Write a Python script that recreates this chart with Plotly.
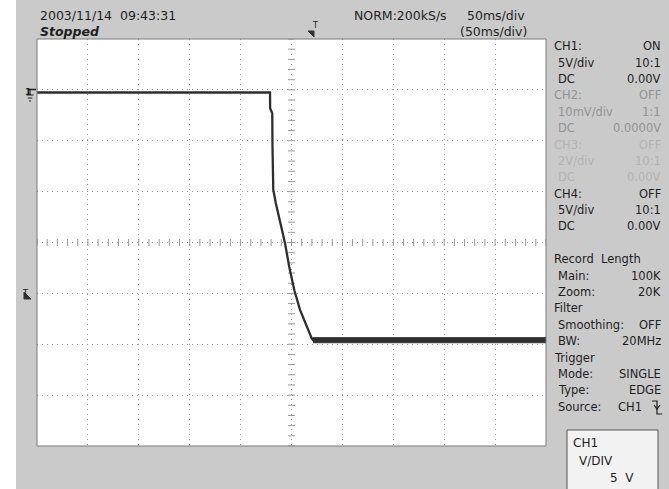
import numpy as np
import plotly.graph_objects as go

W, H = 669, 489

# ---- CH1 waveform: time in ms from left screen edge (50 ms/div), volts (5 V/div)
t_ms = [0.0, 228.9, 229.0, 230.3, 231.1, 231.3, 232.1, 234.5, 238.7, 243.6,
        247.8, 252.8, 258.3, 264.9, 269.8, 271.1, 500.0]
v_ch1 = [-0.26, -0.26, -1.8, -2.2, -2.3, -5.4, -9.8, -11.1, -12.8, -15.05,
         -17.4, -19.7, -21.6, -23.3, -24.4, -24.6, -24.6]

# noise envelope of the low level
noise_t = [271.1, 500.0]
noise_hi = [-24.35, -24.35]
noise_lo = [-24.85, -24.85]

# ---- screen texts
header_left = ["2003/11/14\u00a0\u00a009:43:31", "Stopped"]
header_mid = ["NORM:200kS/s", "50ms/div", "(50ms/div)"]

panel_labels = ["CH1:", "5V/div", "DC", "CH2:", "10mV/div", "DC", "CH3:", "2V/div", "DC",
                "CH4:", "5V/div", "DC", "", "Record\u00a0 Length", "Main:", "Zoom:", "Filter",
                "Smoothing:", "BW:", "Trigger", "Mode:", "Type:", "Source:"]
panel_values = ["ON", "10:1", "0.00V", "OFF", "1:1", "0.0000V", "OFF", "10:1", "0.00V",
                "OFF", "10:1", "0.00V", "", "", "100K", "20K", "",
                "OFF", "20MHz", "", "SINGLE", "EDGE", "CH1"]
panel_headers = {"CH1:", "CH2:", "CH3:", "CH4:", "Record\u00a0 Length", "Filter", "Trigger"}

box_lines = ["CH1", "V/DIV", "5\u00a0 V"]

TXT = "#1e1e1e"
FONT = "DejaVu Sans"


def px(x):
    return x / W


def py(y):
    return 1 - y / H


fig = go.Figure()

# graticule minor ticks on the centre axes
fig.add_trace(go.Scatter(x=np.arange(0, 501, 10), y=np.full(51, -15.0), mode="markers",
                         marker=dict(symbol="line-ns", size=5, line=dict(width=1, color="#9a9a9a")),
                         hoverinfo="skip", showlegend=False))
fig.add_trace(go.Scatter(x=np.full(41, 250.0), y=np.arange(-35, 5.01, 1), mode="markers",
                         marker=dict(symbol="line-ew", size=5, line=dict(width=1, color="#9a9a9a")),
                         hoverinfo="skip", showlegend=False))

# noise band
fig.add_trace(go.Scatter(x=noise_t + noise_t[::-1], y=noise_hi + noise_lo[::-1], fill="toself",
                         fillcolor="#333333", line=dict(width=1, color="#333333"),
                         mode="lines", hoverinfo="skip", showlegend=False))
# waveform
fig.add_trace(go.Scatter(x=t_ms, y=v_ch1, mode="lines", line=dict(color="#2e2e2e", width=2.3),
                         showlegend=False))

x0, x1, y0, y1 = 37, 546, 39, 446
fig.update_layout(
    width=W, height=H, margin=dict(l=0, r=0, t=0, b=0),
    paper_bgcolor="#cacaca", plot_bgcolor="white",
    xaxis=dict(domain=[px(x0), px(x1)], range=[0, 500], dtick=50, tick0=0,
               showgrid=True, gridcolor="#9a9a9a", griddash="1px,4px", gridwidth=1,
               zeroline=False, showticklabels=False, ticks="", fixedrange=True),
    yaxis=dict(domain=[py(y1), py(y0)], range=[-35, 5], dtick=5, tick0=0,
               showgrid=True, gridcolor="#9a9a9a", griddash="1px,4px", gridwidth=1,
               zeroline=False, showticklabels=False, ticks="", fixedrange=True),
    showlegend=False,
)

shapes = []
# white strip on the far left
shapes.append(dict(type="rect", xref="paper", yref="paper", x0=0, x1=px(16), y0=0, y1=1,
                   fillcolor="white", line=dict(width=0), layer="above"))
# plot border
shapes.append(dict(type="rect", xref="paper", yref="paper", x0=px(x0), x1=px(x1), y0=py(y1), y1=py(y0),
                   line=dict(color="#7a7a7a", width=1), layer="above"))


def pline(pts, color=TXT, width=1, fill=None):
    d = "M " + " L ".join(f"{px(a):.5f},{py(b):.5f}" for a, b in pts)
    if fill:
        d += " Z"
    return dict(type="path", xref="paper", yref="paper", path=d,
                line=dict(color=color, width=width), fillcolor=fill, layer="above")


# ground marker for CH1
shapes += [pline([(28, 89.5), (36, 89.5)], width=1.5),
           pline([(30, 89.5), (30, 95)]),
           pline([(26.5, 95), (33.5, 95)]),
           pline([(27.8, 98), (32.2, 98)]),
           pline([(29, 101), (31, 101)])]
# trigger level marker (left)
shapes += [pline([(24, 292), (24, 299), (31, 299)], fill="#333333", color="#333333")]
# trigger position marker (top)
shapes += [pline([(308, 31), (314, 31), (314, 37)], fill="#333333", color="#333333")]
# trigger source falling-edge icon
shapes += [pline([(652, 401), (657, 401), (657, 414), (662, 414)], width=1.2),
           pline([(654, 405), (657, 409), (660, 405)], width=1.2)]
# bottom-right info box
shapes.append(dict(type="rect", xref="paper", yref="paper", x0=px(567), x1=px(658), y0=-0.01, y1=py(430),
                   fillcolor="#f2f2f2", line=dict(color="#555555", width=1), layer="below"))

fig.update_layout(shapes=shapes)

ann = []


def add_text(text, x, y, anchor="left", size=11.5, color=TXT, bold=False, italic=False):
    t = text
    if bold:
        t = f"<b>{t}</b>"
    if italic:
        t = f"<i>{t}</i>"
    ann.append(dict(text=t, x=px(x), y=py(y), xref="paper", yref="paper", showarrow=False,
                    xanchor=anchor, yanchor="middle", font=dict(family=FONT, size=size, color=color)))


add_text(header_left[0], 38, 15, size=12.5)
add_text(header_left[1], 38, 31, size=12.5, bold=True, italic=True)
add_text(header_mid[0], 352, 15, size=12.5)
add_text(header_mid[1], 465, 15, size=12.5)
add_text(header_mid[2], 458, 31, size=12.5)

for i, (lab, val) in enumerate(zip(panel_labels, panel_values)):
    yy = 46.3 + 16.38 * i
    col = TXT
    if 3 <= i <= 5:
        col = "#939393"
    elif 6 <= i <= 8:
        col = "#b3b3b3"
    if lab:
        add_text(lab, 551.5 if lab in panel_headers else 556, yy, color=col)
    if val:
        xr = 644 if lab == "Source:" else 663
        add_text(val, xr, yy, anchor="right", color=col)

add_text("1", 23, 92, size=9, bold=True)
add_text("T", 20, 293, size=8)
add_text("T", 310, 26, size=8)

add_text(box_lines[0], 571, 443, size=12)
add_text(box_lines[1], 577, 461, size=12)
add_text(box_lines[2], 608, 478, size=12)

fig.update_layout(annotations=ann)

fig.write_html("out.html", config={"displayModeBar": False},
               post_script="document.body.style.margin='0';document.body.style.overflow='hidden';")
